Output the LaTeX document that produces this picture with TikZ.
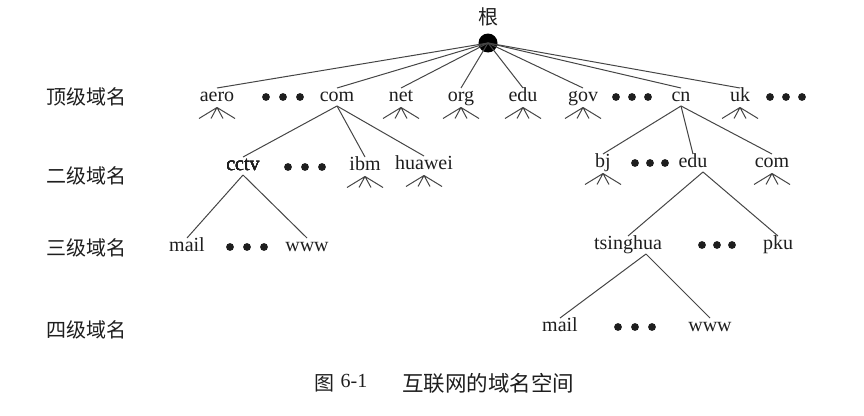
\documentclass[tikz,border=0pt]{standalone}
\usepackage{fontspec}
\setmainfont{Liberation Serif}
\newfontfamily\cjk{Noto Sans CJK SC}
\definecolor{linec}{HTML}{454545}
\definecolor{textc}{HTML}{1E1E1E}
\tikzset{
  word/.style={font=\fontsize{20}{22}\selectfont, text=textc, inner sep=0pt, outer sep=3.5pt, text height=10pt, text depth=1pt},
  lvl/.style={font=\cjk\fontsize{20}{22}\selectfont, text=textc, inner sep=0pt},
  link/.style={draw=linec, line width=1pt},
}
\newcommand\myfan[1]{%
  \draw[link] ([yshift=-1.5pt]#1.south) -- ++(-18,11)
              ([yshift=-1.5pt]#1.south) -- ++(-6,11)
              ([yshift=-1.5pt]#1.south) -- ++(6,11)
              ([yshift=-1.5pt]#1.south) -- ++(18,11);}
\newcommand\threedots[3]{%
  \fill[textc] (#1,#3) circle (3.9) (#2,#3) circle (3.9) ({2*#2-#1},#3) circle (3.9);}
\begin{document}
\begin{tikzpicture}[x=1pt,y=-1pt]
\useasboundingbox (0,0) rectangle (864,415);
% root
\node[circle, fill=black, inner sep=0pt, minimum size=19pt] (root) at (488,43) {};
\node[lvl] (rootlbl) at (488,17) {根};
% level labels
\node[lvl] (l1) at (86,97) {顶级域名};
\node[lvl] (l2) at (86,176) {二级域名};
\node[lvl] (l3) at (86,248) {三级域名};
\node[lvl] (l4) at (86,330) {四级域名};
% level 1
\node[word] (aero) at (217,97) {aero};
\node[word] (com) at (337,97) {com};
\node[word] (net) at (401,97) {net};
\node[word] (org) at (461,97) {org};
\node[word] (edu) at (523,97) {edu};
\node[word] (gov) at (583,97) {gov};
\node[word] (cn) at (681,97) {cn};
\node[word] (uk) at (740,97) {uk};
\threedots{266}{283}{97}
\threedots{616}{632}{97}
\threedots{770}{786}{97}
\foreach \n in {aero,com,net,org,edu,gov,cn,uk} \draw[link] (root.center) -- (\n.north);
\foreach \n in {aero,net,org,edu,gov,uk} \myfan{\n}
% level 2 left
\node[word] (cctv) at (243,166) {cctv};
\node[word] (ibm) at (365,166) {ibm};
\node[word] (huawei) at (424,165) {huawei};
\threedots{288}{305}{167}
\foreach \n in {cctv,ibm,huawei} \draw[link] (com.south) -- (\n.north);
\myfan{ibm}
\myfan{huawei}
% level 2 right
\node[word] (bj) at (603,163) {bj};
\node[word] (edub) at (693,163) {edu};
\node[word] (comb) at (772,163) {com};
\threedots{635}{650}{163}
\foreach \n in {bj,edub,comb} \draw[link] (cn.south) -- (\n.north);
\myfan{bj}
\myfan{comb}
% level 3 left
\node[word] (mail) at (187,247) {mail};
\node[word] (www) at (307,247) {www};
\threedots{230}{247}{247}
\draw[link] (cctv.south) -- (mail.north);
\draw[link] (cctv.south) -- (www.north);
% level 3 right
\node[word] (tsinghua) at (628,245) {tsinghua};
\node[word] (pku) at (778,245) {pku};
\threedots{702}{717}{245}
\draw[link] ([xshift=10pt]edub.south) -- (tsinghua.north);
\draw[link] ([xshift=10pt]edub.south) -- (pku.north);
% level 4
\node[word] (mailb) at (560,327) {mail};
\node[word] (wwwb) at (710,327) {www};
\threedots{618}{635}{327}
\draw[link] ([xshift=18pt]tsinghua.south) -- (mailb.north);
\draw[link] ([xshift=18pt]tsinghua.south) -- (wwwb.north);
% caption
\node[lvl, font=\cjk\fontsize{20}{22}\selectfont] (cap1) at (324,383) {图};
\node[word] (cap2) at (354,383) {6-1};
\node[lvl, font=\cjk\fontsize{21.5}{24}\selectfont] (cap3) at (488,383) {互联网的域名空间};
\end{tikzpicture}
\end{document}
